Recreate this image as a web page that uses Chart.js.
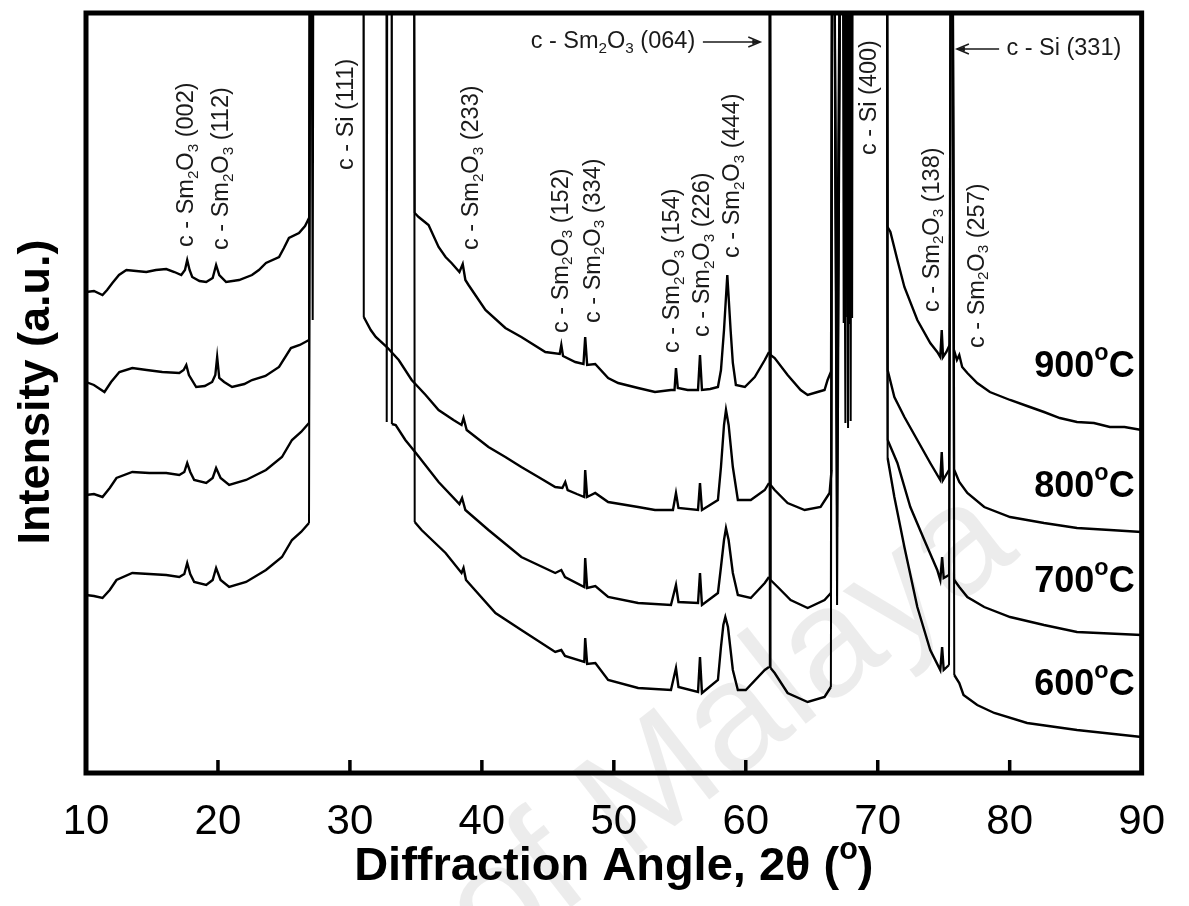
<!DOCTYPE html>
<html>
<head>
<meta charset="utf-8">
<script src="https://cdn.jsdelivr.net/npm/chart.js"></script>
<style>
  html, body { margin: 0; padding: 0; background: #fff; }
  #xrd { display: block; }
</style>
</head>
<body>
<canvas id="xrd" width="1189" height="906"></canvas>
<script>
// XRD patterns of Sm2O3 films annealed at 600-900 °C, stacked with an offset

const OFF = 1200; // Si substrate reflections run far past the top of the frame

// [2theta, intensity (a.u.)]
const xrd900 = [
  [10.0, 481], [10.6, 482], [11.25, 478], [11.6, 483], [12.0, 490], [12.5, 498], [13.06, 503], [13.8, 502],
  [14.57, 501], [15.3, 503], [16.08, 504], [16.7, 501], [17.22, 498], [17.5, 503], [17.67, 513], [17.85, 503],
  [18.05, 496], [18.6, 492], [19.11, 491], [19.6, 495], [19.86, 508], [20.1, 498], [20.62, 491], [21.6, 493],
  [22.58, 498], [23.1, 503], [23.64, 510], [24.63, 516], [25.0, 525], [25.38, 535], [26.14, 540], [26.6, 547],
  [26.9, 555], [27.0, OFF], [34.8, OFF], [34.91, 560], [35.21, 556], [35.96, 548], [36.72, 526], [37.25, 516],
  [37.7, 510], [38.3, 501], [38.55, 509], [38.75, 493], [38.99, 488], [40.27, 463], [41.78, 445], [42.99, 436],
  [44.81, 421], [45.9, 419], [46.02, 428], [46.15, 417], [47.08, 411], [47.7, 409], [47.83, 436], [47.98, 408],
  [48.59, 409], [49.57, 395], [50.33, 390], [51.84, 385], [53.12, 381], [54.33, 383], [54.6, 383], [54.71, 405],
  [54.85, 385], [55.6, 383], [56.38, 383], [56.53, 418], [56.68, 383], [57.3, 384], [57.89, 386], [58.12, 403],
  [58.35, 443], [58.6, 498], [58.85, 443], [59.02, 410], [59.25, 388], [59.93, 386], [60.68, 396], [61.44, 413],
  [61.76, 421], [61.82, OFF], [61.88, 418], [62.19, 415], [63.17, 398], [64.16, 383], [64.69, 378], [65.44, 381],
  [65.97, 383], [66.2, 393], [66.45, 401], [66.58, OFF], [66.9, 418], [67.3, OFF], [67.42, 450], [67.5, OFF],
  [67.58, 456], [67.66, OFF], [67.74, 453], [67.82, OFF], [67.9, 449], [67.98, OFF], [68.06, 455], [68.14, OFF],
  [70.68, OFF], [70.75, 546], [70.96, 541], [71.49, 513], [72.02, 486], [73.0, 453], [73.98, 430], [74.51, 421],
  [74.74, 416], [74.85, 443], [74.95, 416], [75.2, 421], [75.45, 428], [75.62, OFF], [75.78, 423], [76.0, 413],
  [76.18, 418], [76.4, 406], [76.79, 400], [77.54, 390], [78.5, 381], [80.03, 373], [81.32, 367], [82.6, 361],
  [83.8, 355], [85.1, 351], [86.38, 350], [87.59, 346], [88.7, 346], [90.0, 343]
];

const xrd800 = [
  [10.0, 391], [10.6, 388], [11.4, 381], [11.9, 391], [12.53, 401], [13.51, 405], [14.6, 403], [15.78, 401],
  [17.07, 400], [17.4, 403], [17.6, 408], [17.8, 398], [18.35, 386], [19.0, 387], [19.56, 391], [19.8, 398],
  [19.94, 416], [20.1, 395], [20.47, 391], [21.07, 386], [22.0, 389], [22.58, 393], [23.6, 397], [24.63, 406],
  [25.53, 425], [26.2, 428], [26.9, 433], [27.0, OFF], [27.18, 453], [27.28, OFF], [31.0, OFF], [31.05, 456],
  [31.58, 443], [31.96, 436], [32.8, 426], [33.7, 413], [34.68, 393], [35.74, 378], [36.72, 363], [37.85, 353],
  [38.46, 348], [38.61, 355], [38.85, 343], [40.5, 326], [41.78, 316], [42.99, 306], [44.28, 296], [45.56, 286],
  [46.1, 285], [46.32, 291], [46.5, 283], [47.2, 279], [47.76, 276], [47.83, 303], [47.98, 276], [48.59, 280],
  [49.57, 271], [51.84, 266], [53.12, 263], [54.48, 263], [54.71, 280], [54.9, 265], [56.38, 263], [56.53, 290],
  [56.68, 263], [57.89, 273], [58.12, 306], [58.35, 348], [58.5, 363], [58.7, 348], [59.02, 306], [59.4, 273],
  [60.38, 273], [61.44, 283], [61.76, 290], [61.82, OFF], [61.88, 288], [62.19, 283], [63.17, 270], [64.46, 263],
  [65.67, 266], [66.35, 280], [66.5, 303], [66.58, OFF], [66.92, 323], [67.3, OFF], [67.55, 350], [67.65, OFF],
  [67.75, 345], [67.85, OFF], [67.95, 352], [68.05, OFF],
  [70.68, OFF], [70.75, 403], [71.26, 376], [72.02, 356], [73.0, 333], [73.98, 310], [74.74, 293], [74.85, 321],
  [74.95, 293], [75.4, 303], [75.62, OFF], [75.8, 303], [76.18, 291], [76.79, 280], [78.07, 266], [80.03, 256],
  [82.6, 250], [85.1, 245], [87.6, 243], [90.0, 241]
];

const xrd700 = [
  [10.0, 278], [10.6, 279], [11.25, 276], [11.8, 285], [12.31, 295], [13.51, 301], [14.8, 300], [16.08, 300],
  [17.07, 298], [17.45, 301], [17.67, 310], [17.9, 301], [18.2, 293], [19.11, 290], [19.6, 295], [19.86, 305],
  [20.2, 295], [20.85, 288], [22.13, 293], [23.64, 303], [24.85, 316], [25.61, 333], [26.3, 341], [26.9, 350],
  [27.05, OFF], [32.75, OFF], [32.79, 351], [32.86, OFF], [33.14, OFF], [33.18, 349], [33.47, 348], [34.2, 333],
  [35.0, 320], [36.72, 291], [38.3, 269], [38.5, 275], [38.75, 263], [40.5, 243], [42.99, 216], [45.56, 200],
  [46.02, 203], [46.3, 196], [47.76, 186], [47.83, 215], [47.98, 185], [48.6, 187], [49.57, 176], [51.84, 170],
  [54.33, 168], [54.71, 188], [54.9, 171], [56.38, 170], [56.53, 200], [56.68, 168], [57.89, 180], [58.12, 206],
  [58.35, 233], [58.5, 245], [58.7, 233], [59.02, 200], [59.4, 178], [60.38, 175], [61.44, 190], [61.76, 196],
  [61.82, OFF], [61.88, 193], [62.42, 186], [63.4, 173], [64.69, 165], [65.97, 173], [66.45, 180], [66.58, OFF],
  [66.92, 246], [67.3, OFF], [70.68, OFF], [70.75, 333], [71.49, 310], [72.47, 266], [73.53, 233], [74.51, 203],
  [74.74, 193], [74.88, 216], [75.0, 195], [75.4, 198], [75.62, OFF], [75.8, 193], [76.18, 186], [76.79, 176],
  [78.07, 166], [80.03, 156], [82.6, 148], [85.1, 141], [90.0, 138]
];

const xrd600 = [
  [10.0, 178], [10.6, 177], [11.25, 175], [11.8, 183], [12.31, 193], [13.51, 200], [14.8, 199], [16.08, 198],
  [17.07, 196], [17.45, 199], [17.67, 210], [17.9, 199], [18.2, 191], [19.11, 188], [19.6, 193], [19.86, 205],
  [20.2, 193], [20.85, 186], [22.13, 191], [23.64, 203], [24.85, 216], [25.61, 233], [26.3, 241], [26.9, 250],
  [27.05, OFF], [34.85, OFF], [34.91, 251], [35.43, 243], [37.25, 220], [38.46, 200], [38.61, 205], [38.8, 193],
  [41.03, 160], [42.99, 143], [45.56, 121], [46.02, 123], [46.3, 117], [47.76, 111], [47.83, 135], [47.98, 109],
  [48.6, 110], [49.57, 93], [51.84, 85], [54.33, 83], [54.71, 105], [54.9, 86], [56.38, 81], [56.53, 116],
  [56.68, 80], [57.89, 93], [58.12, 126], [58.3, 148], [58.45, 156], [58.65, 146], [59.02, 103], [59.4, 83],
  [60.0, 83], [61.44, 103], [61.76, 106], [61.82, OFF], [61.88, 105], [62.19, 100], [63.17, 80], [64.69, 71],
  [65.97, 76], [66.45, 86], [66.58, OFF], [66.92, 168], [67.3, OFF], [70.68, OFF], [70.75, 315], [71.26, 276],
  [72.02, 226], [73.0, 166], [73.98, 123], [74.74, 103], [74.88, 126], [75.0, 103], [75.4, 108], [75.62, OFF],
  [75.8, 98], [76.18, 90], [76.5, 78], [77.54, 68], [78.83, 60], [81.32, 50], [85.1, 43], [90.0, 36]
];

const xTicks = [10, 20, 30, 40, 50, 60, 70, 80, 90];

// temperature tags at the right end of each pattern
const tempText = ['600^oC', '700^oC', '800^oC', '900^oC'];
const tempLevel = [88, 191, 286, 406];

// vertical peak tags: '_' lowers the next character, '^' raises it
const peakText = [
  'c - Sm_2O_3 (002)', 'c - Sm_2O_3 (112)', 'c - Si (111)', 'c - Sm_2O_3 (233)',
  'c - Sm_2O_3 (152)', 'c - Sm_2O_3 (334)', 'c - Sm_2O_3 (154)', 'c - Sm_2O_3 (226)',
  'c - Sm_2O_3 (444)', 'c - Si (400)', 'c - Sm_2O_3 (138)', 'c - Sm_2O_3 (257)'
];
const peakAngle = [17.6, 20.25, 29.76, 39.2, 46.0, 48.43, 54.48, 56.75, 59.0, 69.37, 74.13, 77.53];
const peakLevel = [526, 523, 603, 523, 440, 450, 420, 436, 515, 618, 461, 425];

// horizontal tags with arrows
const arrowText = ['c - Sm_2O_3 (064)', 'c - Si (331)'];
const arrowTextAt = [43.7, 79.75];
const arrowLevel = [731, 724];
const arrowFrom = [56.75, 79.2];
const arrowTo = [61.1, 76.0];

const FONT = "'Liberation Sans', Arial, Helvetica, sans-serif";

function splitRuns(str) {
  return str.split(/([_^].)/).filter(p => p.length).map(p => {
    if (p[0] === '_') return { text: p[1], shift: 0.3, scale: 0.65 };
    if (p[0] === '^') return { text: p[1], shift: -0.36, scale: 0.65 };
    return { text: p, shift: 0, scale: 1 };
  });
}

function richWidth(ctx, str, size, weight) {
  let w = 0;
  for (const r of splitRuns(str)) {
    ctx.font = `${weight} ${size * r.scale}px ${FONT}`;
    w += ctx.measureText(r.text).width;
  }
  return w;
}

function drawRich(ctx, str, x, y, size, weight) {
  for (const r of splitRuns(str)) {
    ctx.font = `${weight} ${size * r.scale}px ${FONT}`;
    ctx.fillText(r.text, x, y + r.shift * size);
    x += ctx.measureText(r.text).width;
  }
}

function drawArrow(ctx, x0, x1, y) {
  const dir = Math.sign(x1 - x0);
  ctx.beginPath();
  ctx.moveTo(x0, y);
  ctx.lineTo(x1, y);
  ctx.moveTo(x1 - dir * 12, y - 5);
  ctx.lineTo(x1, y);
  ctx.lineTo(x1 - dir * 12, y + 5);
  ctx.stroke();
  ctx.beginPath();
  ctx.moveTo(x1, y);
  ctx.lineTo(x1 - dir * 8, y - 2.5);
  ctx.lineTo(x1 - dir * 8, y + 2.5);
  ctx.closePath();
  ctx.fill();
}

// faint repository watermark behind the patterns
const watermark = {
  id: 'watermark',
  beforeDatasetsDraw(chart) {
    const { ctx } = chart;
    ctx.save();
    ctx.translate(492, 969);
    ctx.rotate(-38 * Math.PI / 180);
    ctx.fillStyle = 'rgba(0,0,0,0.075)';
    ctx.font = `155px ${FONT}`;
    ctx.textBaseline = 'alphabetic';
    ctx.fillText('of Malaya', 0, 0);
    ctx.restore();
  }
};

// frame, inward ticks, axis titles and all the peak tags
const decorations = {
  id: 'decorations',
  afterDatasetsDraw(chart) {
    const { ctx, chartArea: a, scales: { x, y } } = chart;
    ctx.save();

    ctx.strokeStyle = '#000';
    ctx.lineWidth = 5;
    ctx.strokeRect(a.left, a.top, a.right - a.left, a.bottom - a.top);

    ctx.lineWidth = 3.5;
    ctx.beginPath();
    xTicks.slice(1, -1).forEach(v => {
      const px = x.getPixelForValue(v);
      ctx.moveTo(px, a.bottom);
      ctx.lineTo(px, a.bottom - 13);
    });
    ctx.stroke();

    ctx.fillStyle = '#000';
    ctx.textBaseline = 'middle';

    // x title
    const xt = 'Diffraction Angle, 2\u03b8 (^o)';
    const xw = richWidth(ctx, xt, 47, 'bold');
    drawRich(ctx, xt, (a.left + a.right) / 2 - xw / 2, 867, 47, 'bold');

    // y title
    ctx.save();
    ctx.translate(37, 392);
    ctx.rotate(-Math.PI / 2);
    ctx.textAlign = 'center';
    ctx.font = `bold 45px ${FONT}`;
    ctx.fillText('Intensity (a.u.)', 0, 0);
    ctx.restore();

    // temperatures
    tempText.forEach((t, i) => {
      const w = richWidth(ctx, t, 36, 'bold');
      drawRich(ctx, t, x.getPixelForValue(89.47) - w, y.getPixelForValue(tempLevel[i]), 36, 'bold');
    });

    ctx.fillStyle = '#1a1a1a';
    ctx.strokeStyle = '#1a1a1a';

    // vertical peak tags, reading bottom to top
    peakText.forEach((t, i) => {
      ctx.save();
      ctx.translate(x.getPixelForValue(peakAngle[i]), y.getPixelForValue(peakLevel[i]));
      ctx.rotate(-Math.PI / 2);
      drawRich(ctx, t, 0, 0, 23.5, 'normal');
      ctx.restore();
    });

    // horizontal tags pointing at the 064 and 331 reflections
    ctx.lineWidth = 1.5;
    arrowText.forEach((t, i) => {
      const py = y.getPixelForValue(arrowLevel[i]);
      drawRich(ctx, t, x.getPixelForValue(arrowTextAt[i]), py, 23.5, 'normal');
      drawArrow(ctx, x.getPixelForValue(arrowFrom[i]), x.getPixelForValue(arrowTo[i]), py);
    });

    ctx.restore();
  }
};

const series = [xrd600, xrd700, xrd800, xrd900];

// off-scale substrate lines are drawn a little thinner than the pattern itself
const segWidth = (c) => (c.p0.parsed.y >= OFF || c.p1.parsed.y >= OFF ? 2 : 2.4);

new Chart(document.getElementById('xrd'), {
  type: 'line',
  data: {
    datasets: series.map((s, i) => ({
      label: tempText[i].replace('^o', '°'),
      data: s.map(([a, v]) => ({ x: a, y: v })),
      borderColor: '#000',
      borderWidth: 2.4,
      segment: { borderWidth: segWidth },
      pointRadius: 0,
      tension: 0,
      fill: false
    }))
  },
  options: {
    responsive: false,
    animation: false,
    devicePixelRatio: 1,
    layout: { padding: { left: 86, right: 44, top: 13, bottom: 0 } },
    plugins: {
      legend: { display: false },
      tooltip: { enabled: false }
    },
    scales: {
      x: {
        type: 'linear',
        min: 10,
        max: 90,
        afterBuildTicks: (scale) => { scale.ticks = xTicks.map(v => ({ value: v })); },
        afterFit: (scale) => { scale.height = 133; },
        ticks: {
          color: '#000',
          padding: 24,
          maxRotation: 0,
          font: { family: FONT, size: 42 }
        },
        grid: { display: false, drawTicks: false },
        border: { display: false }
      },
      y: { display: false, min: 0, max: 760 }
    }
  },
  plugins: [watermark, decorations]
});
</script>
</body>
</html>
